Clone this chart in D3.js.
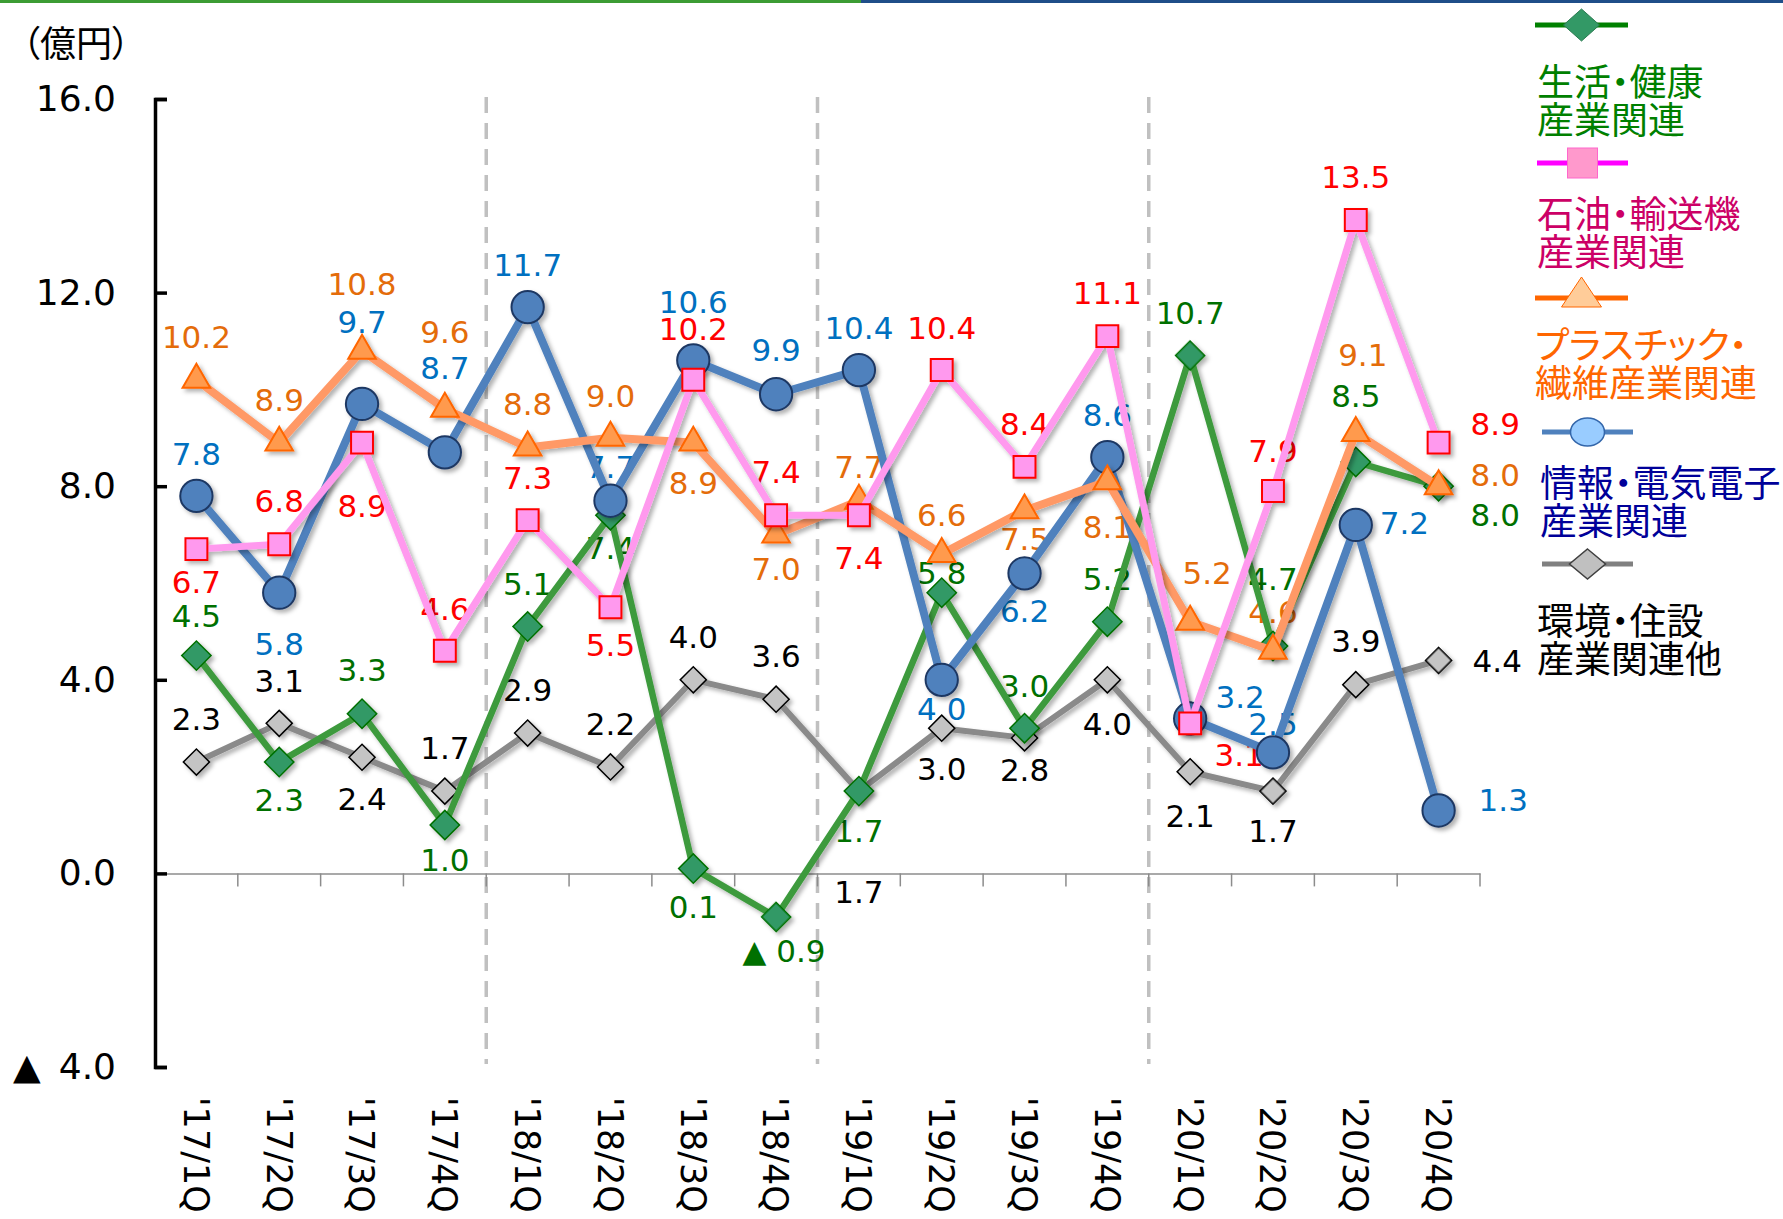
<!DOCTYPE html>
<html>
<head>
<meta charset="utf-8">
<script src="https://cdn.jsdelivr.net/npm/d3@7"></script>
<style>
  body { margin: 0; background: #fff; }
</style>
</head>
<body>
<div id="chart"></div>
<script>
// Categories and values (億円)
var quarters = ["'17/1Q", "'17/2Q", "'17/3Q", "'17/4Q", "'18/1Q", "'18/2Q", "'18/3Q", "'18/4Q",
                "'19/1Q", "'19/2Q", "'19/3Q", "'19/4Q", "'20/1Q", "'20/2Q", "'20/3Q", "'20/4Q"];
var yTicks = [16, 12, 8, 4, 0, -4];

var lifeHealth   = [4.5, 2.3, 3.3, 1.0, 5.1, 7.4, 0.1, -0.9, 1.7, 5.8, 3.0, 5.2, 10.7, 4.7, 8.5, 8.0];
var oilTransport = [6.7, 6.8, 8.9, 4.6, 7.3, 5.5, 10.2, 7.4, 7.4, 10.4, 8.4, 11.1, 3.1, 7.9, 13.5, 8.9];
var plasticFiber = [10.2, 8.9, 10.8, 9.6, 8.8, 9.0, 8.9, 7.0, 7.7, 6.6, 7.5, 8.1, 5.2, 4.6, 9.1, 8.0];
var infoElectric = [7.8, 5.8, 9.7, 8.7, 11.7, 7.7, 10.6, 9.9, 10.4, 4.0, 6.2, 8.6, 3.2, 2.5, 7.2, 1.3];
var envHousing   = [2.3, 3.1, 2.4, 1.7, 2.9, 2.2, 4.0, 3.6, 1.7, 3.0, 2.8, 4.0, 2.1, 1.7, 3.9, 4.4];

// data label placement relative to each point: [dx, dy, anchor]
var lifeHealthLbl   = [[0,-40],[0,38],[0,-44],[0,35],[0,-43],[0,33],[0,38],[8,34],[0,40],[0,-20],[0,-42],[0,-43],[0,-43],[0,-67],[0,-66],[32,29,"start"]];
var oilTransportLbl = [[0,33],[0,-43],[0,63],[0,-42],[0,-42],[0,38],[0,-51],[0,-43],[0,43],[0,-42],[0,-43],[0,-43],[49,31],[0,-40],[0,-43],[32,-19,"start"]];
var plasticFiberLbl = [[0,-43],[0,-43],[0,-67],[0,-77],[0,-44],[0,-42],[0,40],[0,34],[0,-34],[0,-39],[0,28],[0,45],[17,-49],[0,-39],[7,-78],[32,-11,"start"]];
var infoElectricLbl = [[0,-42],[0,51],[0,-82],[0,-84],[0,-42],[0,-34],[0,-59],[0,-44],[0,-42],[0,29],[0,38],[0,-42],[50,-22],[0,-29],[24,-2,"start"],[40,-11,"start"]];
var envHousingLbl   = [[0,-43],[0,-43],[0,42],[0,-43],[0,-43],[0,-43],[0,-43],[0,-43],[0,101],[0,41],[0,32],[0,44],[0,44],[0,40],[0,-44],[34,0,"start"]];

var svgWidth = 1783;
var svgHeight = 1219;

var svg = d3.select("#chart")
  .append("svg")
  .attr("width", svgWidth)
  .attr("height", svgHeight);

var defs = svg.append("defs");
defs.append("filter")
  .attr("id", "shadow")
  .attr("x", "-10%").attr("y", "-10%").attr("width", "120%").attr("height", "120%")
  .append("feDropShadow")
  .attr("dx", 3).attr("dy", 3).attr("stdDeviation", 2)
  .attr("flood-color", "#000").attr("flood-opacity", 0.3);

// top colour bar
svg.append("rect").attr("x", 0).attr("y", 0).attr("width", 861).attr("height", 3).attr("fill", "#3c9c34");
svg.append("rect").attr("x", 861).attr("y", 0).attr("width", svgWidth - 861).attr("height", 3).attr("fill", "#1f4e89");

// scales
var x = d3.scaleBand().domain(quarters).range([155, 1480]);
var y = d3.scaleLinear().domain([-4, 16]).range([1067, 99]);
var bw = x.bandwidth();
var cx = d => x(d) + bw / 2;

var numFmt = d3.format(".1f");
var signed = v => v < 0 ? "▲ " + numFmt(-v) : numFmt(v);

// unit label
svg.append("text")
  .attr("x", 22).attr("y", 43).attr("dy", "0.38em")
  .attr("font-family", "'Noto Sans CJK JP'")
  .attr("font-size", 36)
  .style("font-feature-settings", "'palt'")
  .attr("fill", "#000")
  .text("（億円）");

// year separators
[4, 8, 12].forEach(function(i) {
  svg.append("line")
    .attr("x1", x(quarters[i])).attr("x2", x(quarters[i]))
    .attr("y1", 97).attr("y2", 1064)
    .attr("stroke", "#c0c0c0").attr("stroke-width", 3.5)
    .attr("stroke-dasharray", "16 10");
});

// x axis at zero
var bottomAxis = d3.axisBottom(x).tickSize(13).tickSizeOuter(0).tickFormat("");
var xg = svg.append("g")
  .attr("transform", `translate(0, ${y(0)})`)
  .call(bottomAxis);
xg.select(".domain").attr("stroke", "#8c8c8c").attr("stroke-width", 1.5);
xg.selectAll(".tick line").attr("x1", bw / 2).attr("x2", bw / 2).attr("stroke", "#8c8c8c").attr("stroke-width", 1.5);

// x labels (rotated)
svg.append("g").selectAll("text")
  .data(quarters)
  .join("text")
  .attr("transform", d => `translate(${cx(d)}, 1097) rotate(90)`)
  .attr("dy", "0.36em")
  .attr("font-family", "'DejaVu Sans'")
  .attr("font-size", 35)
  .attr("fill", "#000")
  .text(d => d);

// y axis
var leftAxis = d3.axisLeft(y).tickValues(yTicks).tickSize(-12).tickSizeOuter(-12).tickPadding(39)
  .tickFormat(v => v < 0 ? "▲\u2002" + numFmt(-v) : numFmt(v));
var yg = svg.append("g")
  .attr("transform", "translate(155, 0)")
  .call(leftAxis);
yg.select(".domain").attr("stroke", "#000").attr("stroke-width", 3.5);
yg.selectAll(".tick line").attr("stroke", "#000").attr("stroke-width", 3.5);
yg.selectAll(".tick text")
  .attr("font-family", "'DejaVu Sans'")
  .attr("font-size", 36)
  .attr("fill", "#000");

// series
var series = [
  { key: "env",     values: envHousing,   lbl: envHousingLbl,   line: "#8a8a8a", lw: 6, shape: "diamond", size: 340, fill: "#c4c4c4", stroke: "#000",    sw: 1.5, text: "#000" },
  { key: "life",    values: lifeHealth,   lbl: lifeHealthLbl,   line: "#3d9a3d", lw: 6.5, shape: "diamond", size: 430, fill: "#339966", stroke: "#007000", sw: 1.5, text: "#007000" },
  { key: "info",    values: infoElectric, lbl: infoElectricLbl, line: "#4f81bd", lw: 8, shape: "circle",  size: 820, fill: "#4f81bd", stroke: "#1f3864", sw: 2,   text: "#0070c0" },
  { key: "plastic", values: plasticFiber, lbl: plasticFiberLbl, line: "#ff9966", lw: 8, shape: "triangle",size: 330, fill: "#ff9a4d", stroke: "#ff6600", sw: 2,   text: "#e46c0a" },
  { key: "oil",     values: oilTransport, lbl: oilTransportLbl, line: "#ff99ee", lw: 7, shape: "square",  size: 480, fill: "#ff99ee", stroke: "#ff0000", sw: 2,   text: "#ff0000" }
];

var symbolTypes = { diamond: d3.symbolSquare, circle: d3.symbolCircle, triangle: d3.symbolTriangle, square: d3.symbolSquare };

// data labels (underneath the lines, as in the original)
series.forEach(function(s) {
  svg.append("g").selectAll("text")
    .data(s.values)
    .join("text")
    .attr("x", (d, i) => cx(quarters[i]) + s.lbl[i][0])
    .attr("y", (d, i) => y(d) + s.lbl[i][1])
    .attr("dy", "0.36em")
    .attr("text-anchor", (d, i) => s.lbl[i][2] || "middle")
    .attr("font-family", "'DejaVu Sans'")
    .attr("font-size", 31)
    .attr("fill", s.text)
    .text(d => signed(d));
});

series.forEach(function(s) {
  var g = svg.append("g").attr("filter", "url(#shadow)");
  var line = d3.line()
    .x((d, i) => cx(quarters[i]))
    .y(d => y(d));
  g.append("path")
    .datum(s.values)
    .attr("d", line)
    .attr("fill", "none")
    .attr("stroke", s.line)
    .attr("stroke-width", s.lw)
    .attr("stroke-linejoin", "round");
  g.selectAll("path.m")
    .data(s.values)
    .join("path")
    .attr("class", "m")
    .attr("d", d3.symbol().type(symbolTypes[s.shape]).size(s.size))
    .attr("transform", (d, i) => `translate(${cx(quarters[i])}, ${y(d)})` + (s.shape === "diamond" ? " rotate(45)" : ""))
    .attr("fill", s.fill)
    .attr("stroke", s.stroke)
    .attr("stroke-width", s.sw);
});

// legend
var legendItems = [
  { lines: ["生活・健康", "産業関連"],       color: "#008000", line: "#008000", ly: 25,  ty: 82,  tx: 1537, lx: [1535, 1628] },
  { lines: ["石油・輸送機", "産業関連"],     color: "#cc0066", line: "#ff00ff", ly: 163, ty: 214, tx: 1537, lx: [1537, 1628] },
  { lines: ["プラスチック・", "繊維産業関連"], color: "#ff6600", line: "#ff6600", ly: 298, ty: 345, tx: 1535, lx: [1535, 1628] },
  { lines: ["情報・電気電子", "産業関連"],   color: "#000099", line: "#4f81bd", ly: 432, ty: 483, tx: 1540, lx: [1542, 1633] },
  { lines: ["環境・住設", "産業関連他"],     color: "#000000", line: "#808080", ly: 564, ty: 621, tx: 1537, lx: [1542, 1633] }
];
var leg = svg.append("g");
legendItems.forEach(function(it, k) {
  leg.append("line")
    .attr("x1", it.lx[0]).attr("x2", it.lx[1]).attr("y1", it.ly).attr("y2", it.ly)
    .attr("stroke", it.line).attr("stroke-width", 5);
  var mx = (it.lx[0] + it.lx[1]) / 2;
  if (k === 0) {
    leg.append("path").attr("d", `M${mx},${it.ly - 16} L${mx + 18},${it.ly} L${mx},${it.ly + 16} L${mx - 18},${it.ly} Z`)
      .attr("fill", "#339966").attr("stroke", "#2a7a50").attr("stroke-width", 1);
  } else if (k === 1) {
    leg.append("rect").attr("x", mx - 15).attr("y", it.ly - 15).attr("width", 30).attr("height", 30)
      .attr("fill", "#ff99cc").attr("stroke", "#ff66cc").attr("stroke-width", 1);
  } else if (k === 2) {
    leg.append("path").attr("d", `M${mx},${it.ly - 21} L${mx + 20},${it.ly + 9} L${mx - 20},${it.ly + 9} Z`)
      .attr("fill", "#ffcc99").attr("stroke", "#ff6600").attr("stroke-width", 1);
  } else if (k === 3) {
    leg.append("ellipse").attr("cx", mx).attr("cy", it.ly).attr("rx", 17).attr("ry", 14)
      .attr("fill", "#99ccff").attr("stroke", "#3366aa").attr("stroke-width", 1.5);
  } else {
    leg.append("path").attr("d", `M${mx},${it.ly - 15} L${mx + 18},${it.ly} L${mx},${it.ly + 15} L${mx - 18},${it.ly} Z`)
      .attr("fill", "#c0c0c0").attr("stroke", "#404040").attr("stroke-width", 1.5);
  }
  it.lines.forEach(function(t, j) {
    leg.append("text")
      .attr("x", it.tx).attr("y", it.ty + j * 38).attr("dy", "0.38em")
      .attr("font-family", "'Noto Sans CJK JP'")
      .attr("font-size", 37)
      .style("font-feature-settings", "'palt'")
      .attr("fill", it.color)
      .text(t);
  });
});
</script>
</body>
</html>
